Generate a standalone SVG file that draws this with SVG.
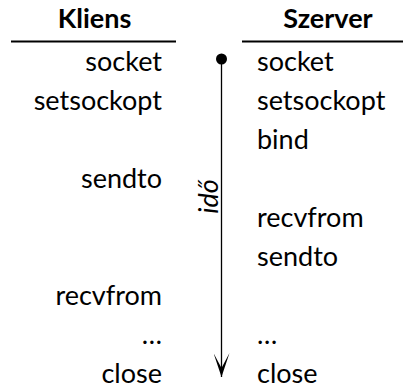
<svg xmlns="http://www.w3.org/2000/svg" width="403" height="389" viewBox="0 0 403 389">
<defs>
<style>
text{font-family:Lato,"Open Sans","Liberation Sans",sans-serif;font-size:27px;fill:#000}
.h{font-weight:bold;text-anchor:middle}
.l{text-anchor:end}
.r{text-anchor:start}
.rule{stroke:#000;stroke-width:2}
</style>
<marker id="ah" viewBox="0 0 24 16" markerWidth="24" markerHeight="16" refX="24" refY="8" orient="auto" markerUnits="userSpaceOnUse">
<path d="M0,0 L24,8 L0,16 L15,8 Z" fill="#000"/>
</marker>
</defs>
<g id="header-kliens"><text class="h" x="94.5" y="28">Kliens</text><line class="rule" x1="11" y1="41.5" x2="176" y2="41.5"/></g>
<g id="header-szerver"><text class="h" x="328" y="28">Szerver</text><line class="rule" x1="242" y1="41.5" x2="403" y2="41.5"/></g>
<g id="kliens">
<text class="l" x="162" y="71">socket</text>
<text class="l" x="162" y="110">setsockopt</text>
<text class="l" x="162" y="188">sendto</text>
<text class="l" x="162" y="305">recvfrom</text>
<text class="l" x="162" y="344">…</text>
<text class="l" x="162" y="383">close</text>
</g>
<g id="szerver">
<text class="r" x="257" y="71">socket</text>
<text class="r" x="257" y="110">setsockopt</text>
<text class="r" x="257" y="149">bind</text>
<text class="r" x="257" y="227">recvfrom</text>
<text class="r" x="257" y="266">sendto</text>
<text class="r" x="257" y="344">…</text>
<text class="r" x="257" y="383">close</text>
</g>
<g id="connectors">
<circle cx="221.5" cy="59" r="5.5" fill="#000"/>
<line x1="221.5" y1="59" x2="221.5" y2="377" stroke="#000" stroke-width="1.3" marker-end="url(#ah)"/>
<text x="218" y="196.5" transform="rotate(-90 218 196.5)" text-anchor="middle" font-style="italic">idő</text>
</g>
</svg>
